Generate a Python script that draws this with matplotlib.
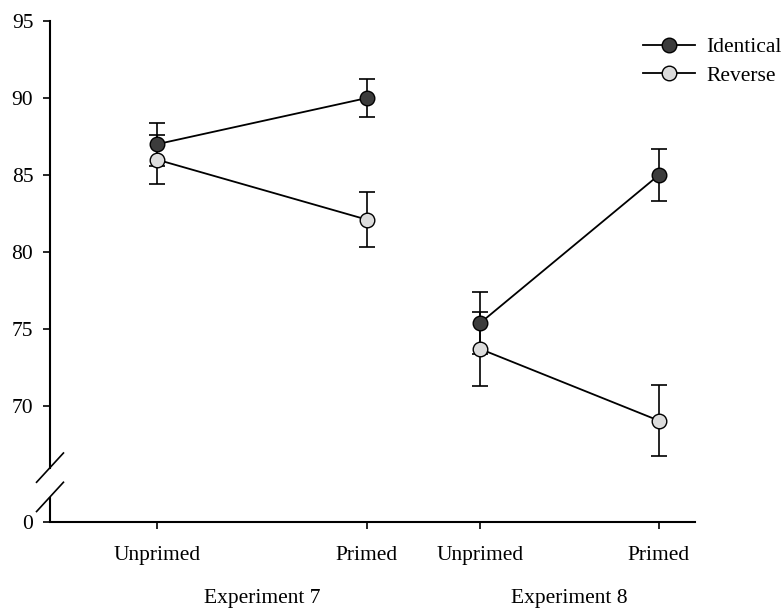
import numpy as np
import matplotlib
matplotlib.use('Agg')
import matplotlib.pyplot as plt

plt.rcParams['font.family'] = ['Liberation Serif', 'DejaVu Serif']

# conditions, per experiment
conditions = ["Unprimed", "Primed", "Unprimed", "Primed"]
experiments = ["Experiment 7", "Experiment 8"]

identical = [87.0, 90.0, 75.4, 85.0]
identical_err = [1.4, 1.25, 2.0, 1.7]
reverse = [86.0, 82.1, 73.7, 69.05]
reverse_err = [1.6, 1.8, 2.4, 2.3]

yticks = [70, 75, 80, 85, 90, 95]

# layout
xpos = np.array([1.0, 2.0, 2.54, 3.39])
ybottom = 62.47   # where the "0" sits below the break
gap = (64.1, 66.0)
fs = 15.5

fig = plt.figure(figsize=(7.84, 6.14), dpi=100)
ax = fig.add_axes([50 / 784, 1 - 522 / 614, 645 / 784, 501 / 614])

series = [
    (identical, identical_err, '#3c3c3c', 'Identical'),
    (reverse, reverse_err, '#dcdcdc', 'Reverse'),
]
handles = []
for vals, err, fc, name in series:
    vals = np.array(vals)
    err = np.array(err)
    ax.errorbar(xpos, vals, yerr=err, fmt='none', ecolor='black',
                elinewidth=1.2, capsize=6, capthick=1.2, zorder=2)
    for sl in (slice(0, 2), slice(2, 4)):
        ax.plot(xpos[sl], vals[sl], color='black', lw=1.3, zorder=3)
    ax.plot(xpos, vals, 'o', ms=10.5, mfc=fc, mec='black', mew=1.0, zorder=4)
    h, = ax.plot([], [], '-o', color='black', lw=1.3, ms=10.5, mfc=fc,
                 mec='black', mew=1.0, label=name)
    handles.append(h)

ax.set_xlim(0.4905, 3.562)
ax.set_ylim(ybottom, 95)
ax.set_xticks(xpos)
ax.set_xticklabels(conditions)
ax.set_yticks([ybottom] + yticks)
ax.set_yticklabels(["0"] + [str(t) for t in yticks])
ax.tick_params(axis='both', direction='out', length=5, width=1.2,
               labelsize=fs, colors='black')
ax.tick_params(axis='y', pad=7)
ax.tick_params(axis='x', pad=12)

for s in ('top', 'right'):
    ax.spines[s].set_visible(False)
ax.spines['bottom'].set_linewidth(1.5)
ax.spines['left'].set_linewidth(1.5)
ax.spines['left'].set_bounds(gap[1], 95)
# lower stub of the y axis plus the break marks
ax.plot([0.4905, 0.4905], [ybottom, gap[0]], color='black', lw=1.5,
        clip_on=False, solid_capstyle='butt')
dx = 0.064
for yb in gap:
    ax.plot([0.4905 - dx, 0.4905 + dx], [yb - 0.95, yb + 0.95],
            color='black', lw=1.2, clip_on=False)

# experiment group labels
for i, name in enumerate(experiments):
    xm = xpos[2 * i:2 * i + 2].mean()
    xf = fig.transFigure.inverted().transform(ax.transData.transform((xm, 0)))[0]
    fig.text(xf, 1 - 599 / 614, name, ha='center', va='center', fontsize=fs)

fig.legend(handles=handles, loc='upper left',
           bbox_to_anchor=(643 / 784, 1 - 37 / 614), frameon=False,
           fontsize=fs, handlelength=2.4, handletextpad=0.55,
           labelspacing=0.4, borderpad=0, borderaxespad=0)

fig.savefig('out.png', dpi=100)
